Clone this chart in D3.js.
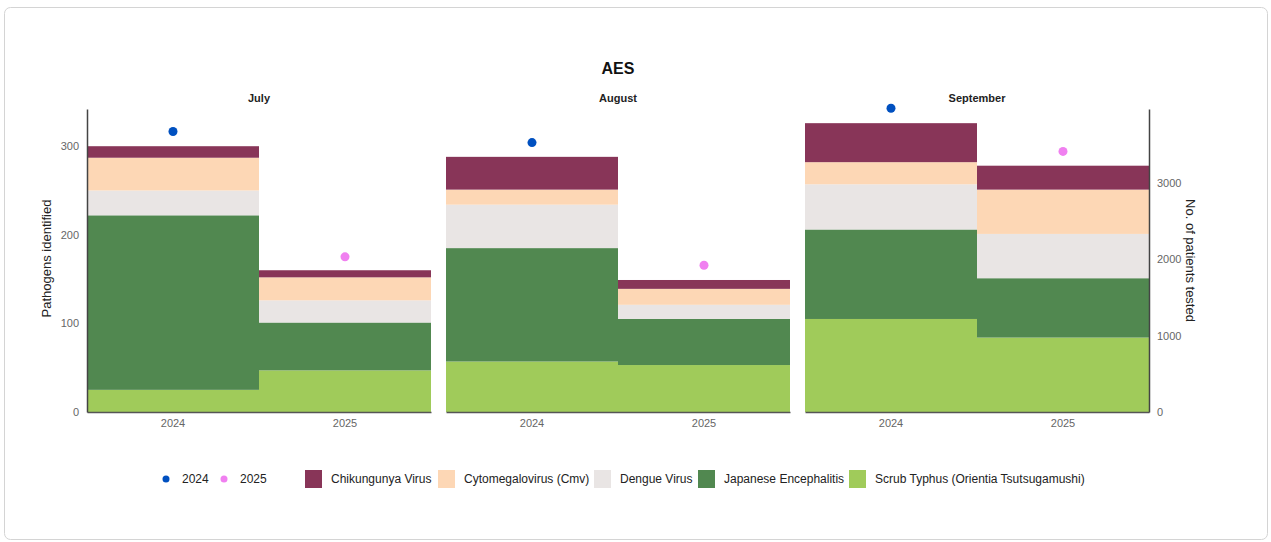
<!DOCTYPE html>
<html lang="en">
<head>
    <meta charset="UTF-8">
    <title>AES</title>
    <script src="https://d3js.org/d3.v7.min.js"></script>
    <style>
        body {
            margin: 0;
            background: #fff;
            font-family: "Liberation Sans", Arial, sans-serif;
        }
    </style>
</head>
<body>
    <div id="chart"></div>
    <script>
        // data
        const months = ["July", "August", "September"];
        const years = ["2024", "2025"];
        const pathogens = ["Scrub Typhus (Orientia Tsutsugamushi)", "Japanese Encephalitis", "Dengue Virus", "Cytomegalovirus (Cmv)", "Chikungunya Virus"];
        const legendOrder = ["Chikungunya Virus", "Cytomegalovirus (Cmv)", "Dengue Virus", "Japanese Encephalitis", "Scrub Typhus (Orientia Tsutsugamushi)"];
        const colors = ["#a0cb5a", "#518850", "#e9e5e4", "#fdd7b5", "#883558"];
        const yearColors = ["#0050c0", "#f080f0"];

        // pathogens identified per month/year (order = pathogens)
        const counts = {
            "July":      { "2024": [25, 197, 28, 37, 13], "2025": [47, 54, 25, 26, 8] },
            "August":    { "2024": [57, 128, 49, 17, 37], "2025": [53, 52, 16, 18, 10] },
            "September": { "2024": [105, 101, 51, 25, 44], "2025": [84, 67, 50, 50, 27] }
        };
        // patients tested
        const tested = {
            "July":      { "2024": 3670, "2025": 2030 },
            "August":    { "2024": 3525, "2025": 1920 },
            "September": { "2024": 3975, "2025": 3410 }
        };
        const leftTicks = [0, 100, 200, 300];
        const rightTicks = [0, 1000, 2000, 3000];

        const width = 1271, height = 542;
        const plotTop = 109, plotBottom = 412;
        const panelX = [87, 446, 805], panelW = 344;
        const tickColor = "#666";

        const svg = d3.select("#chart").append("svg")
            .attr("width", width)
            .attr("height", height);

        svg.append("rect")
            .attr("x", 4.5).attr("y", 7.5)
            .attr("width", 1263).attr("height", 532)
            .attr("rx", 6)
            .attr("fill", "#fff")
            .attr("stroke", "#d4d4d4");

        const y = d3.scaleLinear().domain([0, 342]).range([plotBottom, plotTop]);
        const y2 = d3.scaleLinear().domain([0, 3965]).range([plotBottom, plotTop]);

        svg.append("text")
            .attr("x", 618).attr("y", 74)
            .attr("text-anchor", "middle")
            .attr("font-size", 16).attr("font-weight", "bold")
            .attr("fill", "#111")
            .text("AES");

        months.forEach((m, i) => {
            const x = d3.scaleBand().domain(years).range([panelX[i], panelX[i] + panelW]);
            const g = svg.append("g");

            g.append("text")
                .attr("x", panelX[i] + panelW / 2).attr("y", 102)
                .attr("text-anchor", "middle")
                .attr("font-size", 11).attr("font-weight", "bold")
                .attr("fill", "#222")
                .text(m);

            years.forEach(yr => {
                const vals = counts[m][yr];
                const stacked = d3.cumsum(vals);
                vals.forEach((v, k) => {
                    const y0 = k === 0 ? 0 : stacked[k - 1];
                    g.append("rect")
                        .attr("x", x(yr))
                        .attr("width", x.bandwidth())
                        .attr("y", y(y0 + v))
                        .attr("height", y(y0) - y(y0 + v))
                        .attr("fill", colors[k]);
                });

                g.append("circle")
                    .attr("cx", x(yr) + x.bandwidth() / 2)
                    .attr("cy", y2(tested[m][yr]))
                    .attr("r", 4.5)
                    .attr("fill", yearColors[years.indexOf(yr)]);
            });

            const xAxis = g.append("g")
                .attr("transform", `translate(0,${plotBottom})`)
                .call(d3.axisBottom(x).tickSize(0).tickPadding(7));
            xAxis.select(".domain").attr("stroke", "#555").attr("stroke-width", 1.5);
            xAxis.selectAll("text")
                .attr("font-family", "Liberation Sans, Arial, sans-serif")
                .attr("font-size", 11).attr("fill", tickColor);
        });

        const leftAxis = svg.append("g")
            .attr("transform", `translate(${panelX[0]},0)`)
            .call(d3.axisLeft(y).tickValues(leftTicks).tickSize(0).tickPadding(8));
        leftAxis.select(".domain").attr("stroke", "#444").attr("stroke-width", 1.5);
        leftAxis.selectAll("text")
            .attr("font-family", "Liberation Sans, Arial, sans-serif")
            .attr("font-size", 11).attr("fill", tickColor);

        const rightAxis = svg.append("g")
            .attr("transform", `translate(${panelX[2] + panelW},0)`)
            .call(d3.axisRight(y2).tickValues(rightTicks).tickFormat(d3.format("d")).tickSize(0).tickPadding(8));
        rightAxis.select(".domain").attr("stroke", "#444").attr("stroke-width", 1.5);
        rightAxis.selectAll("text")
            .attr("font-family", "Liberation Sans, Arial, sans-serif")
            .attr("font-size", 11).attr("fill", tickColor);

        svg.append("text")
            .attr("transform", `translate(51,${(plotTop + plotBottom) / 2 - 2}) rotate(-90)`)
            .attr("text-anchor", "middle")
            .attr("font-size", 13).attr("fill", "#222")
            .text("Pathogens identified");

        svg.append("text")
            .attr("transform", `translate(1186,${(plotTop + plotBottom) / 2}) rotate(90)`)
            .attr("text-anchor", "middle")
            .attr("font-size", 13).attr("fill", "#222")
            .text("No. of patients tested");

        // legend
        const legY = 479;
        const lg = svg.append("g").attr("font-size", 12).attr("fill", "#222");
        const dotX = [166, 224];
        years.forEach((yr, i) => {
            lg.append("circle").attr("cx", dotX[i]).attr("cy", legY).attr("r", 3.5).attr("fill", yearColors[i]);
            lg.append("text").attr("x", dotX[i] + 16).attr("y", legY + 4).text(yr);
        });
        const boxX = [305, 438, 594, 698, 849];
        legendOrder.forEach((p, i) => {
            lg.append("rect")
                .attr("x", boxX[i]).attr("y", legY - 9)
                .attr("width", 17).attr("height", 18)
                .attr("fill", colors[pathogens.indexOf(p)]);
            lg.append("text").attr("x", boxX[i] + 26).attr("y", legY + 4).text(p);
        });
    </script>
</body>
</html>
